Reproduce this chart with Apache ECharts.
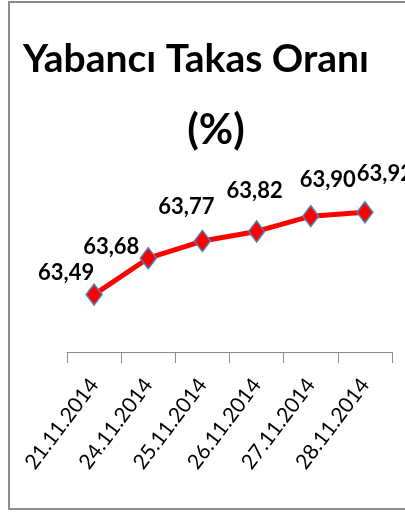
<!DOCTYPE html>
<html>
<head>
<meta charset="utf-8">
<script src="https://cdn.jsdelivr.net/npm/echarts@6/dist/echarts.min.js"></script>
<style>
  html, body { margin: 0; padding: 0; background: #fff; }
  #chart { width: 405px; height: 517px; }
</style>
</head>
<body>
<div id="chart"></div>
<script>
const dates = ['21.11.2014', '24.11.2014', '25.11.2014', '26.11.2014', '27.11.2014', '28.11.2014']
const ratios = [63.49, 63.68, 63.77, 63.82, 63.90, 63.92]
// label nudges, same order as ratios
const labelShift = [[-28, -22], [-37, -11], [-16, -34], [-2, -41], [17, -36], [20, -38]]

const chart = echarts.init(document.getElementById('chart'))

chart.setOption({
  animation: false,
  title: [
    {
      text: 'Yabancı Takas Oranı',
      left: 191,
      top: 35,
      textAlign: 'center',
      textStyle: {fontFamily: 'Lato', fontWeight: 'bold', fontSize: 39, color: '#000'}
    },
    {
      text: '(%)',
      left: 211,
      top: 104,
      textAlign: 'center',
      textStyle: {fontFamily: 'Lato', fontWeight: 'bold', fontSize: 42, color: '#000'}
    }
  ],
  graphic: [{
    type: 'rect',
    shape: {x: 9, y: 2, width: 430, height: 507},
    style: {fill: 'none', stroke: '#8c8c8c', lineWidth: 2},
    silent: true
  }],
  grid: {left: 67, right: 13, top: 197, bottom: 165},
  xAxis: {
    type: 'category',
    data: dates,
    boundaryGap: true,
    axisLine: {lineStyle: {color: '#8c8c8c', width: 1}},
    axisTick: {show: true, length: 11, inside: false, lineStyle: {color: '#8c8c8c'}},
    axisLabel: {
      rotate: 53,
      margin: 29,
      fontFamily: 'Lato',
      fontSize: 21,
      color: '#000'
    }
  },
  yAxis: {
    type: 'value',
    show: false,
    min: 63.19,
    max: 64.0,
    splitLine: {show: false}
  },
  series: [{
    type: 'line',
    data: ratios.map((v, i) => ({
      value: v,
      label: {offset: labelShift[i]}
    })),
    lineStyle: {color: '#ff0000', width: 5},
    symbol: 'diamond',
    symbolSize: [16, 21],
    itemStyle: {color: '#ff0000', borderColor: '#4f81bd', borderWidth: 1.5},
    label: {
      show: true,
      position: 'inside',
      formatter: p => p.value.toFixed(2).replace('.', ','),
      fontFamily: 'Lato',
      fontWeight: 'bold',
      fontSize: 22,
      color: '#000'
    },
    z: 3
  }]
})
</script>
</body>
</html>
